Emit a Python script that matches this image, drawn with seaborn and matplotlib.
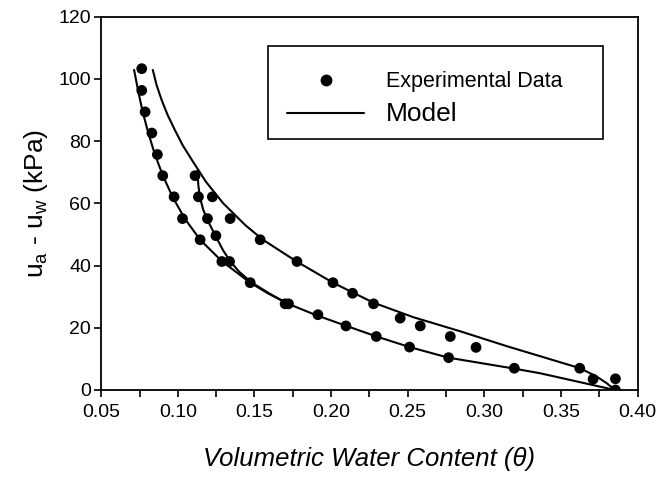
import numpy as np
import pandas as pd
import matplotlib
matplotlib.use("Agg")
import matplotlib.pyplot as plt
from matplotlib.lines import Line2D
from matplotlib.patches import Rectangle
from matplotlib.ticker import MultipleLocator
import seaborn as sns

# ---- experimental data (theta, suction kPa) ----
exp_theta = [0.0764, 0.0764, 0.0786, 0.0830, 0.0866, 0.0901, 0.0975, 0.1030, 0.1145,
             0.1112, 0.1134, 0.1193, 0.1248, 0.1287, 0.1337, 0.1472, 0.1700, 0.1722,
             0.1225, 0.1341, 0.1537, 0.1777, 0.2012, 0.2140, 0.2277, 0.2451, 0.2582,
             0.2778, 0.2946, 0.3623, 0.3710, 0.3856, 0.3856,
             0.1914, 0.2097, 0.2295, 0.2512, 0.2767, 0.3196]
exp_suction = [103.3, 96.3, 89.4, 82.6, 75.7, 68.9, 62.1, 55.1, 48.3,
               68.9, 62.1, 55.1, 49.6, 41.3, 41.3, 34.5, 27.7, 27.7,
               62.1, 55.1, 48.3, 41.3, 34.5, 31.1, 27.7, 23.1, 20.6,
               17.2, 13.7, 7.0, 3.5, 3.6, 0.0,
               24.2, 20.6, 17.2, 13.8, 10.4, 7.0]

# ---- model curves ----
drying_theta = [0.0714, 0.0740, 0.0770, 0.0807, 0.0850, 0.0902, 0.0965, 0.1045, 0.1145,
                0.1287, 0.1472, 0.1590, 0.1720, 0.1900, 0.2100, 0.2297, 0.2512, 0.2765,
                0.3180, 0.3363, 0.3853]
drying_suction = [102.9, 96.3, 89.4, 82.6, 75.7, 68.9, 62.1, 55.1, 48.3,
                  41.4, 34.5, 31.0, 27.7, 24.1, 20.6, 17.2, 13.8, 10.4,
                  7.0, 5.4, 0.0]

wetting_theta = [0.0836, 0.0861, 0.0894, 0.0933, 0.0980, 0.1031, 0.1092, 0.1182, 0.1296,
                 0.1440, 0.1555, 0.1772, 0.2012, 0.2275, 0.2537, 0.2841, 0.3146, 0.3625,
                 0.3734, 0.3799, 0.3853]
wetting_suction = [102.9, 98.0, 93.2, 88.4, 83.6, 78.7, 73.9, 67.0, 60.0,
                   53.0, 48.3, 41.4, 34.5, 28.1, 23.4, 18.9, 14.1, 7.0,
                   4.3, 2.2, 0.0]

scanning_theta = [0.1128, 0.1133, 0.1144, 0.1165, 0.1190, 0.1245, 0.1294, 0.1338,
                  0.1400, 0.1480, 0.1598, 0.1715]
scanning_suction = [70.5, 66.0, 61.9, 58.0, 54.9, 49.6, 45.0, 41.6,
                    38.0, 34.6, 31.0, 27.8]

x_ticks = [0.05, 0.10, 0.15, 0.20, 0.25, 0.30, 0.35, 0.40]
y_ticks = [0, 20, 40, 60, 80, 100, 120]

sns.set_style("ticks")
plt.rcParams["font.family"] = ["Liberation Sans", "DejaVu Sans"]
plt.rcParams["mathtext.fontset"] = "custom"
plt.rcParams["mathtext.rm"] = "Liberation Sans"
plt.rcParams["mathtext.it"] = "Liberation Sans:italic"
plt.rcParams["text.color"] = "black"
plt.rcParams["axes.labelcolor"] = "black"

fig = plt.figure(figsize=(6.6, 4.8), dpi=100)
ax = fig.add_axes([101.3 / 660, 90 / 480, 536.2 / 660, 373.3 / 480])

exp_df = pd.DataFrame({"theta": exp_theta, "suction": exp_suction})
sns.scatterplot(data=exp_df, x="theta", y="suction", ax=ax, color="black",
                s=60, edgecolor="none", zorder=3, legend=False)

for cx, cy in [(drying_theta, drying_suction), (wetting_theta, wetting_suction),
               (scanning_theta, scanning_suction)]:
    sns.lineplot(x=cx, y=cy, ax=ax, sort=False, estimator=None, color="black",
                 lw=1.5, zorder=2, legend=False)

ax.set_xlim(0.05, 0.40)
ax.set_ylim(0, 120)
ax.set_xticks(x_ticks)
ax.set_xticklabels([f"{t:.2f}" for t in x_ticks])
ax.xaxis.set_minor_locator(MultipleLocator(0.025))
ax.set_yticks(y_ticks)
ax.tick_params(axis="both", which="both", direction="out", length=5, width=1.2,
               colors="black", labelsize=14, top=False, right=False)
ax.tick_params(axis="x", which="major", pad=5)
ax.tick_params(axis="y", which="major", pad=2.5)
for sp in ax.spines.values():
    sp.set_visible(True)
    sp.set_linewidth(1.3)
    sp.set_color("black")

ax.set_xlabel("Volumetric Water Content (\u03b8)", fontsize=18.5, style="italic",
              labelpad=19)
ax.set_ylabel(r"u$_\mathrm{a}$ - u$_\mathrm{w}$ (kPa)", fontsize=19, labelpad=6)

# legend box frame
ax.add_patch(Rectangle((0.3103, 0.6716), 0.6254, 0.2507, transform=ax.transAxes,
                       facecolor="white", edgecolor="black", lw=1.2, zorder=4))

handles = [Line2D([], [], marker="o", linestyle="none", color="black", markersize=7.5),
           Line2D([], [], color="black", lw=1.5)]
leg = ax.legend(handles, ["Experimental Data", "Model"], loc="upper left",
                bbox_to_anchor=(0.310, 0.656, 0.626, 0.250), mode="expand",
                frameon=False, handlelength=3.6, handletextpad=1.0, borderpad=0.9,
                labelspacing=0.45, fontsize=15.5, borderaxespad=0)
leg.set_zorder(5)
leg.get_texts()[1].set_fontsize(19)

fig.savefig("out.png", dpi=100)
